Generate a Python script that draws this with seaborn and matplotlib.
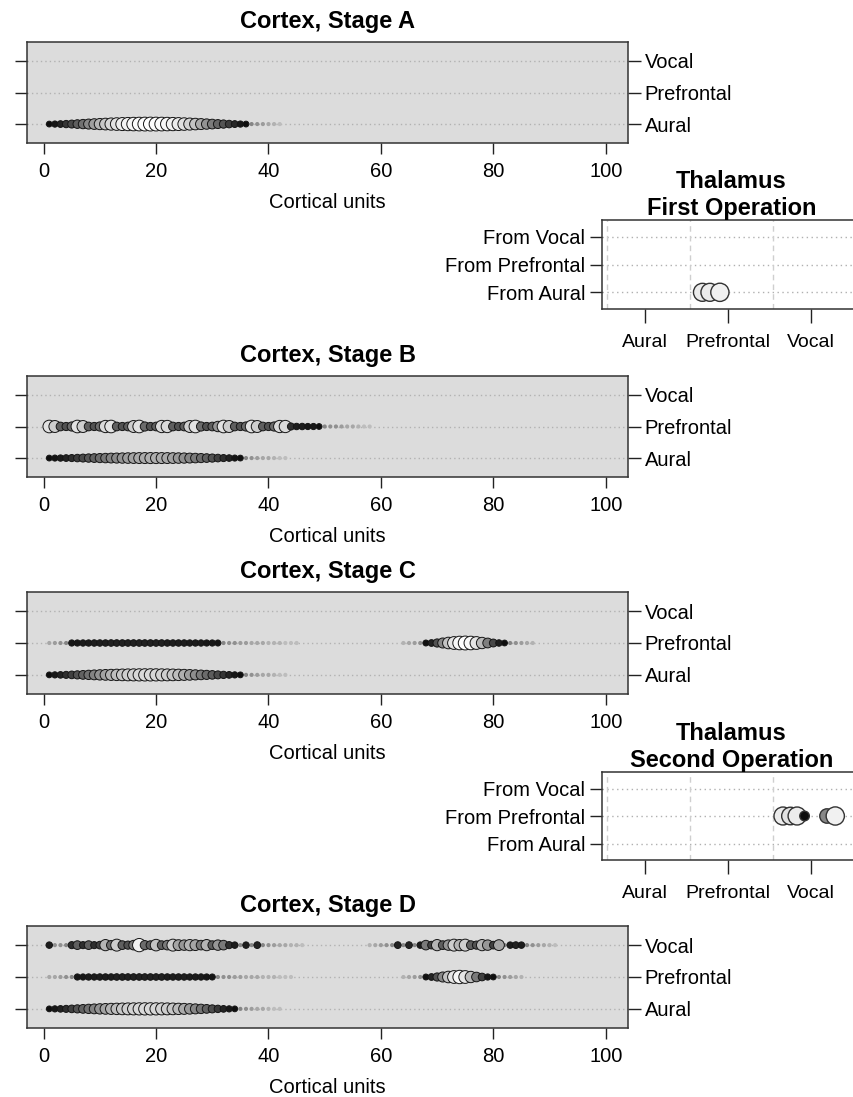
import numpy as np
import pandas as pd
import matplotlib
matplotlib.use("Agg")
import matplotlib.pyplot as plt
import seaborn as sns

sns.set_style("ticks")
plt.rcParams['font.family'] = ['Liberation Sans', 'DejaVu Sans']
plt.rcParams['text.color'] = 'black'
plt.rcParams['axes.labelcolor'] = 'black'
plt.rcParams['xtick.color'] = 'black'
plt.rcParams['ytick.color'] = 'black'

# ---------------- data ----------------
rows = ["Aural", "Prefrontal", "Vocal"]
thal_rows = ["From Aural", "From Prefrontal", "From Vocal"]
thal_cats = ["Aural", "Prefrontal", "Vocal"]
x_ticks = [0, 20, 40, 60, 80, 100]

# activation per cortical unit, listed from a start unit (units not listed are 0)
stageA_aural_start = 1
stageA_aural = [0.05, 0.08, 0.12, 0.17, 0.23, 0.30, 0.37, 0.45, 0.53, 0.60, 0.67, 0.74,
                0.80, 0.86, 0.90, 0.94, 0.97, 0.99, 1.00, 0.99, 0.97, 0.94, 0.90, 0.85,
                0.79, 0.72, 0.65, 0.57, 0.49, 0.41, 0.33, 0.26, 0.19, 0.13, 0.08, 0.05,
                0.035, 0.03, 0.025, 0.02, 0.015, 0.01]

stageB_aural_start = 1
stageB_aural = [0.05, 0.07, 0.09, 0.12, 0.15, 0.19, 0.23, 0.27, 0.31, 0.35, 0.39, 0.43,
                0.46, 0.49, 0.52, 0.54, 0.56, 0.57, 0.58, 0.58, 0.57, 0.56, 0.54, 0.51,
                0.48, 0.44, 0.40, 0.35, 0.30, 0.25, 0.20, 0.15, 0.11, 0.07, 0.05,
                0.035, 0.03, 0.025, 0.02, 0.02, 0.015, 0.01, 0.01]
stageB_pref_start = 1
stageB_pref = [0.80, 0.70, 0.30, 0.25, 0.35, 0.80, 0.70, 0.30, 0.25, 0.35, 0.75, 0.80,
               0.30, 0.25, 0.30, 0.70, 0.80, 0.35, 0.25, 0.30, 0.75, 0.75, 0.30, 0.25,
               0.30, 0.70, 0.80, 0.35, 0.25, 0.30, 0.50, 0.80, 0.70, 0.30, 0.25, 0.35,
               0.80, 0.70, 0.30, 0.25, 0.35, 0.75, 0.75, 0.15, 0.10, 0.10, 0.08, 0.08,
               0.05, 0.035, 0.03, 0.03, 0.025, 0.02, 0.02, 0.015, 0.01, 0.01]

stageC_aural_start = 1
stageC_aural = [0.05, 0.08, 0.11, 0.15, 0.20, 0.25, 0.31, 0.37, 0.43, 0.49, 0.54, 0.59,
                0.63, 0.67, 0.70, 0.72, 0.74, 0.75, 0.75, 0.74, 0.72, 0.70, 0.67, 0.63,
                0.58, 0.53, 0.47, 0.41, 0.35, 0.29, 0.23, 0.17, 0.12, 0.08, 0.05,
                0.035, 0.03, 0.025, 0.02, 0.02, 0.015, 0.01, 0.01]
stageC_pref_start = 1
stageC_pref = [0.02, 0.025, 0.03, 0.035, 0.08, 0.08, 0.09, 0.09, 0.10, 0.10, 0.10, 0.11,
               0.11, 0.11, 0.11, 0.11, 0.11, 0.11, 0.11, 0.11, 0.11, 0.10, 0.10, 0.10,
               0.10, 0.09, 0.09, 0.09, 0.08, 0.08, 0.07, 0.035, 0.03, 0.03, 0.025, 0.025,
               0.02, 0.02, 0.02, 0.015, 0.015, 0.015, 0.01, 0.01, 0.01]
stageC_pref2_start = 64
stageC_pref2 = [0.015, 0.02, 0.025, 0.03, 0.06, 0.12, 0.25, 0.45, 0.65, 0.82, 0.95, 1.00,
                0.95, 0.82, 0.62, 0.42, 0.22, 0.10, 0.05, 0.035, 0.03, 0.025, 0.02, 0.015]

stageD_aural_start = 1
stageD_aural = [0.05, 0.08, 0.11, 0.15, 0.20, 0.25, 0.31, 0.37, 0.43, 0.49, 0.54, 0.59,
                0.63, 0.67, 0.70, 0.72, 0.74, 0.75, 0.75, 0.74, 0.72, 0.70, 0.67, 0.62,
                0.57, 0.51, 0.45, 0.38, 0.31, 0.24, 0.18, 0.12, 0.08, 0.05,
                0.035, 0.03, 0.025, 0.02, 0.02, 0.015, 0.01, 0.01]
stageD_pref_start = 1
stageD_pref = [0.02, 0.02, 0.025, 0.03, 0.035, 0.08, 0.08, 0.09, 0.09, 0.10, 0.10, 0.10,
               0.11, 0.11, 0.11, 0.11, 0.11, 0.11, 0.11, 0.11, 0.11, 0.10, 0.10, 0.10,
               0.10, 0.09, 0.09, 0.09, 0.08, 0.07, 0.035, 0.03, 0.03, 0.025, 0.025,
               0.02, 0.02, 0.02, 0.015, 0.015, 0.015, 0.01, 0.01, 0.01]
stageD_pref2_start = 64
stageD_pref2 = [0.015, 0.02, 0.025, 0.03, 0.06, 0.12, 0.25, 0.45, 0.65, 0.82, 0.92, 0.82,
                0.62, 0.40, 0.20, 0.08, 0.05, 0.035, 0.03, 0.025, 0.02, 0.015]
stageD_vocal_start = 1
stageD_vocal = [0.10, 0.03, 0.03, 0.035, 0.15, 0.30, 0.15, 0.30, 0.15, 0.20, 0.60, 0.35,
                0.70, 0.30, 0.25, 0.40, 0.90, 0.35, 0.30, 0.65, 0.30, 0.40, 0.70, 0.55,
                0.50, 0.60, 0.55, 0.40, 0.60, 0.30, 0.50, 0.40, 0.15, 0.10, 0.035, 0.10,
                0.035, 0.12, 0.035, 0.03, 0.025, 0.02, 0.02, 0.015, 0.015, 0.01]
stageD_vocal2_start = 58
stageD_vocal2 = [0.015, 0.02, 0.025, 0.03, 0.035, 0.12, 0.035, 0.12, 0.035, 0.10, 0.40,
                 0.20, 0.60, 0.30, 0.50, 0.70, 0.60, 0.70, 0.30, 0.25, 0.60, 0.50, 0.20,
                 0.55, 0.035, 0.10, 0.12, 0.10, 0.035, 0.03, 0.025, 0.02, 0.015, 0.01]

# thalamus: position along category axis (0=Aural, 1=Prefrontal, 2=Vocal), activation
thal1_x = [0.69, 0.78, 0.90]
thal1_v = [0.85, 0.85, 0.88]
thal1_row = ["From Aural", "From Aural", "From Aural"]
thal2_x = [1.66, 1.75, 1.83, 1.92, 2.19, 2.29]
thal2_v = [0.85, 0.80, 0.85, 0.05, 0.45, 0.88]
thal2_row = ["From Prefrontal"] * 6

panels = {
    "Cortex, Stage A": [("Aural", stageA_aural_start, stageA_aural)],
    "Cortex, Stage B": [("Aural", stageB_aural_start, stageB_aural),
                        ("Prefrontal", stageB_pref_start, stageB_pref)],
    "Cortex, Stage C": [("Aural", stageC_aural_start, stageC_aural),
                        ("Prefrontal", stageC_pref_start, stageC_pref),
                        ("Prefrontal", stageC_pref2_start, stageC_pref2)],
    "Cortex, Stage D": [("Aural", stageD_aural_start, stageD_aural),
                        ("Prefrontal", stageD_pref_start, stageD_pref),
                        ("Prefrontal", stageD_pref2_start, stageD_pref2),
                        ("Vocal", stageD_vocal_start, stageD_vocal),
                        ("Vocal", stageD_vocal2_start, stageD_vocal2)],
}

# ---------------- layout ----------------
W, H = 854, 1097
fig = plt.figure(figsize=(W / 100, H / 100), dpi=100)


def rect(l, t, r, b):
    return [l / W, 1 - b / H, (r - l) / W, (b - t) / H]


cortex_rects = {
    "Cortex, Stage A": rect(27, 42, 628, 143),
    "Cortex, Stage B": rect(27, 376, 628, 477),
    "Cortex, Stage C": rect(27, 592, 628, 694),
    "Cortex, Stage D": rect(27, 926, 628, 1028),
}
thal_rects = [
    ("Thalamus\nFirst Operation", rect(602, 220, 861, 309), thal1_x, thal1_v, thal1_row),
    ("Thalamus\nSecond Operation", rect(602, 772, 861, 860), thal2_x, thal2_v, thal2_row),
]

LS = 14.5
trail_cmap = sns.blend_palette(["#d4d4d4", "#7a7a7a"], as_cmap=True)

for title, segs in panels.items():
    ax = fig.add_axes(cortex_rects[title])
    recs = []
    for rname, start, vals in segs:
        for i, v in enumerate(vals):
            recs.append({"unit": start + i, "pos": rows.index(rname) + 1, "v": v})
    df = pd.DataFrame(recs)
    ax.set_facecolor("#dcdcdc")
    for p in range(1, 4):
        ax.axhline(p, color="#b2b2b2", lw=1.0, ls=(0, (1, 2.2)), zorder=0.5)
    trail = df[df.v < 0.04]
    active = df[df.v >= 0.04]
    if len(trail):
        sns.scatterplot(data=trail, x="unit", y="pos", hue="v", palette=trail_cmap,
                        hue_norm=(0, 0.04), s=9, linewidth=0, legend=False, ax=ax, zorder=2)
    sns.scatterplot(data=active, x="unit", y="pos", size="v", sizes=(13, 100), size_norm=(0, 1),
                    hue="v", palette="Greys_r", hue_norm=(0, 1), edgecolor="#151515",
                    linewidth=0.7, legend=False, ax=ax, zorder=3)
    ax.set_xlim(-2.96, 103.96)
    ax.set_ylim(0.4, 3.6)
    ax.set_xticks(x_ticks)
    ax.set_xticklabels([str(t) for t in x_ticks])
    ax.set_yticks([1, 2, 3])
    ax.set_yticklabels(rows)
    ax.tick_params(axis="x", direction="out", length=8, width=1, labelsize=LS, pad=6, color="#222")
    ax.tick_params(axis="y", direction="out", length=9, width=1, labelsize=LS, pad=3,
                   left=True, right=True, labelleft=False, labelright=True, color="#222")
    ax.set_xlabel("Cortical units", fontsize=LS, labelpad=8)
    ax.set_ylabel("")
    ax.set_title(title, fontsize=17, fontweight="bold", pad=10)
    for sp in ax.spines.values():
        sp.set_linewidth(1.1)
        sp.set_color("#333333")

for title, r, tx, tv, trow in thal_rects:
    ax = fig.add_axes(r)
    df = pd.DataFrame({"x": tx, "v": tv, "pos": [thal_rows.index(t) + 1 for t in trow]})
    ax.set_facecolor("white")
    for p in range(1, 4):
        ax.axhline(p, color="#b0b0b0", lw=1.0, ls=(0, (1, 2.5)), zorder=0.5)
    for xv in [-0.46, 0.54, 1.54, 2.54]:
        ax.axvline(xv, color="#cfcfcf", lw=1.0, ls=(0, (4, 3)), zorder=0.5)
    sns.scatterplot(data=df, x="x", y="pos", size="v", sizes=(40, 190), size_norm=(0, 1),
                    hue="v", palette="Greys_r", hue_norm=(0, 1), edgecolor="#333333",
                    linewidth=1.0, legend=False, ax=ax, zorder=3)
    ax.set_xlim(-0.52, 2.6)
    ax.set_ylim(0.4, 3.6)
    ax.set_xticks([0, 1, 2])
    ax.set_xticklabels(thal_cats)
    ax.set_yticks([1, 2, 3])
    ax.set_yticklabels(thal_rows)
    ax.tick_params(axis="x", direction="out", length=10, width=1, labelsize=LS - 0.5, pad=8, color="#222")
    ax.tick_params(axis="y", direction="out", length=9, width=1, labelsize=LS, pad=3, color="#222")
    ax.set_xlabel("")
    ax.set_ylabel("")
    ax.set_title(title, fontsize=17, fontweight="bold", pad=3, linespacing=1.2)
    for sp in ax.spines.values():
        sp.set_linewidth(1.1)
        sp.set_color("#333333")

fig.savefig("out.png", dpi=100)
